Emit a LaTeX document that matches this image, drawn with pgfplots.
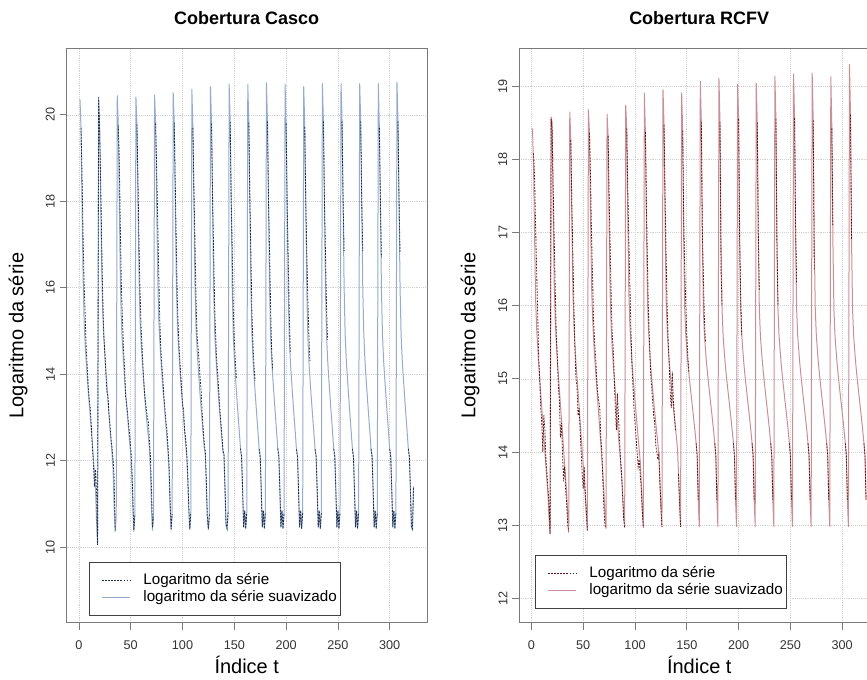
\documentclass[border=0pt]{standalone}
\usepackage{fontspec}
\setmainfont{Liberation Sans}
\usepackage{pgfplots}
\usepackage{pgfplotstable}
\pgfplotsset{compat=1.18}
\definecolor{casco}{HTML}{94ABC9}
\definecolor{cascoraw}{HTML}{1E2C48}
\definecolor{rcfv}{HTML}{C98F96}
\definecolor{rcfvraw}{HTML}{5E1414}
\definecolor{frame}{HTML}{7A7A7A}

\pgfplotstableread{
t s r
1 20.36 nan
2 19.70 19.70
3 17.90 18.60
4 16.30 17.20
5 15.20 16.10
6 14.70 15.40
7 14.30 14.60
8 13.95 14.20
9 13.60 13.70
10 13.30 13.40
11 13.00 13.20
12 12.70 12.80
13 12.40 12.30
14 12.05 11.90
15 11.70 11.40
16 11.35 11.80
17 10.60 11.30
18 10.05 10.05
19 20.42 20.40
20 19.75 19.60
21 18.10 18.40
22 16.40 17.00
23 15.40 15.80
24 14.90 14.90
25 14.45 14.50
26 14.10 14.00
27 13.75 13.60
28 13.40 13.50
29 13.05 13.10
30 12.75 12.80
31 12.45 12.50
32 12.15 12.30
33 11.80 12.00
34 10.90 11.60
35 10.35 10.40
36 10.70 nan
37 20.45 nan
38 19.75 19.75
39 17.95 18.90
40 16.20 17.40
41 15.20 16.00
42 14.70 15.30
43 14.30 14.60
44 13.95 14.20
45 13.60 13.50
46 13.30 13.30
47 13.00 13.10
48 12.70 12.80
49 12.40 12.60
50 12.15 12.30
51 11.70 11.90
52 10.90 11.20
53 10.35 10.40
54 10.75 10.75
55 20.42 nan
56 19.78 19.78
57 18.00 18.50
58 16.30 17.00
59 15.25 15.90
60 14.75 15.10
61 14.35 14.60
62 14.00 14.10
63 13.65 13.70
64 13.35 13.40
65 13.05 13.20
66 12.80 13.00
67 12.55 12.90
68 12.30 12.50
69 11.80 12.10
70 10.95 11.40
71 10.38 10.45
72 10.75 10.70
73 20.47 nan
74 19.80 19.80
75 18.05 18.80
76 16.35 17.60
77 15.30 16.40
78 14.80 15.30
79 14.40 14.60
80 14.05 14.20
81 13.70 13.90
82 13.40 13.50
83 13.10 13.20
84 12.80 12.90
85 12.50 12.70
86 12.20 12.30
87 11.75 11.90
88 10.90 11.10
89 10.38 10.42
90 10.78 10.76
91 20.52 nan
92 19.82 19.82
93 18.00 18.40
94 16.20 17.00
95 15.20 15.70
96 14.70 15.00
97 14.30 14.50
98 13.95 14.10
99 13.60 13.70
100 13.30 13.30
101 13.00 13.20
102 12.70 12.70
103 12.40 12.50
104 12.15 12.20
105 11.60 11.70
106 10.90 10.95
107 10.40 10.42
108 10.80 10.78
109 20.60 nan
110 19.70 19.70
111 17.95 18.30
112 16.10 17.10
113 15.10 15.80
114 14.60 14.90
115 14.20 14.60
116 13.85 14.30
117 13.50 13.90
118 13.20 13.60
119 12.90 13.10
120 12.60 12.70
121 12.30 12.40
122 12.15 12.20
123 11.40 11.50
124 10.60 10.70
125 10.40 10.42
126 10.80 10.78
127 20.66 nan
128 19.80 19.80
129 18.00 18.10
130 16.05 16.90
131 15.00 15.60
132 14.50 14.90
133 14.10 14.30
134 13.75 14.00
135 13.40 13.60
136 13.10 13.20
137 12.80 12.90
138 12.50 12.60
139 12.20 12.25
140 12.15 12.15
141 11.35 11.35
142 10.50 10.52
143 10.42 10.43
144 10.80 10.80
145 20.72 nan
146 19.84 19.84
147 18.00 18.00
148 16.00 16.90
149 14.92 15.50
150 14.37 14.80
151 13.97 14.30
152 13.62 13.90
153 13.27 nan
154 12.94 nan
155 12.61 nan
156 12.26 12.28
157 12.10 12.09
158 11.30 11.31
159 10.45 10.46
160 10.85 10.84
161 10.42 10.43
162 10.80 10.79
163 20.71 nan
164 19.82 19.82
165 18.00 18.05
166 16.00 16.80
167 14.92 15.40
168 14.37 14.70
169 13.97 14.20
170 13.62 13.85
171 13.27 nan
172 12.94 nan
173 12.61 nan
174 12.26 12.27
175 12.10 12.08
176 11.30 11.32
177 10.45 10.46
178 10.85 10.84
179 10.42 10.43
180 10.80 10.79
181 20.75 nan
182 19.85 19.85
183 18.00 18.00
184 16.00 16.90
185 14.92 15.60
186 14.37 14.60
187 13.97 14.10
188 13.62 nan
189 13.27 nan
190 12.94 nan
191 12.61 nan
192 12.26 12.28
193 12.10 12.09
194 11.30 11.31
195 10.45 10.46
196 10.85 10.84
197 10.42 10.43
198 10.80 10.79
199 20.71 nan
200 19.80 19.80
201 17.95 17.95
202 15.95 16.70
203 14.90 15.50
204 14.35 14.50
205 13.95 nan
206 13.60 nan
207 13.25 nan
208 12.92 nan
209 12.60 nan
210 12.25 12.26
211 12.10 12.09
212 11.30 11.31
213 10.45 10.46
214 10.85 10.84
215 10.42 10.43
216 10.80 10.79
217 20.66 nan
218 19.72 19.72
219 17.90 17.90
220 15.90 16.80
221 14.85 15.70
222 14.30 14.90
223 13.90 14.30
224 13.55 nan
225 13.22 nan
226 12.90 nan
227 12.58 nan
228 12.24 12.26
229 12.10 12.09
230 11.30 11.31
231 10.45 10.46
232 10.85 10.84
233 10.42 10.43
234 10.80 10.79
235 20.73 nan
236 19.85 19.85
237 18.00 18.00
238 16.00 16.80
239 14.92 15.60
240 14.37 14.80
241 13.97 nan
242 13.62 nan
243 13.27 nan
244 12.94 nan
245 12.61 nan
246 12.26 12.27
247 12.10 12.08
248 11.30 11.32
249 10.45 10.46
250 10.85 10.84
251 10.42 10.43
252 10.80 10.79
253 20.73 nan
254 19.85 19.85
255 18.00 18.00
256 16.00 16.85
257 14.92 nan
258 14.37 nan
259 13.97 nan
260 13.62 nan
261 13.27 nan
262 12.94 nan
263 12.61 nan
264 12.26 12.27
265 12.10 12.08
266 11.30 11.32
267 10.45 10.46
268 10.85 10.84
269 10.42 10.43
270 10.80 10.79
271 20.73 nan
272 19.85 19.85
273 18.00 18.00
274 16.00 16.85
275 14.92 nan
276 14.37 nan
277 13.97 nan
278 13.62 nan
279 13.27 nan
280 12.94 nan
281 12.61 nan
282 12.26 12.27
283 12.10 12.08
284 11.30 11.32
285 10.45 10.46
286 10.85 10.84
287 10.42 10.43
288 10.80 10.79
289 20.73 nan
290 19.70 19.70
291 18.00 18.00
292 16.00 16.70
293 14.92 nan
294 14.37 nan
295 13.97 nan
296 13.62 nan
297 13.27 nan
298 12.94 nan
299 12.61 nan
300 12.26 12.27
301 12.10 12.08
302 11.30 11.32
303 10.45 10.46
304 10.85 10.84
305 10.42 10.43
306 10.80 10.79
307 20.76 nan
308 19.85 19.85
309 18.00 18.00
310 16.00 16.80
311 14.92 nan
312 14.37 nan
313 13.97 nan
314 13.62 nan
315 13.27 nan
316 12.94 nan
317 12.61 nan
318 12.26 12.27
319 12.10 12.08
320 11.30 11.32
321 10.45 10.46
322 10.40 10.42
323 11.40 11.40
}\cascotab

\pgfplotstableread{
t s r
1 18.42 nan
2 17.95 18.08
3 17.00 17.80
4 16.10 17.10
5 15.70 16.50
6 15.45 15.90
7 15.20 15.30
8 15.00 15.00
9 14.80 14.60
10 14.60 14.40
11 14.40 14.00
12 14.20 14.50
13 14.00 14.30
14 13.80 13.90
15 13.60 13.70
16 13.40 13.50
17 13.10 13.30
18 12.88 12.88
19 18.58 18.55
20 18.50 18.40
21 17.30 17.60
22 16.30 16.90
23 15.80 16.20
24 15.50 15.60
25 15.25 15.30
26 15.05 14.90
27 14.85 14.70
28 14.65 14.20
29 14.45 14.40
30 14.25 14.00
31 14.05 13.60
32 13.85 13.80
33 13.65 13.50
34 13.45 13.30
35 13.15 13.00
36 12.90 12.92
37 18.65 nan
38 18.26 18.26
39 17.20 17.40
40 16.20 16.70
41 15.75 16.00
42 15.45 15.40
43 15.22 15.00
44 15.02 14.90
45 14.82 14.50
46 14.62 14.60
47 14.42 14.30
48 14.22 14.00
49 14.02 13.70
50 13.82 13.50
51 13.62 13.80
52 13.40 13.40
53 13.12 13.20
54 12.93 12.93
55 18.68 nan
56 18.36 18.36
57 17.30 17.80
58 16.30 17.00
59 15.85 16.40
60 15.55 15.80
61 15.30 15.50
62 15.10 15.30
63 14.90 15.00
64 14.70 14.80
65 14.50 14.70
66 14.30 14.60
67 14.10 14.20
68 13.90 14.00
69 13.70 13.60
70 13.45 13.20
71 13.15 13.00
72 12.96 12.96
73 18.62 nan
74 18.32 18.32
75 17.10 17.50
76 16.15 16.80
77 15.70 16.10
78 15.42 15.60
79 15.20 15.40
80 15.00 15.00
81 14.80 14.60
82 14.60 14.30
83 14.40 14.80
84 14.22 14.50
85 14.05 14.20
86 13.88 13.90
87 13.70 13.70
88 13.45 13.40
89 13.15 13.10
90 12.97 12.97
91 18.74 nan
92 18.42 18.42
93 17.20 17.60
94 16.20 16.90
95 15.75 16.30
96 15.48 15.70
97 15.25 15.20
98 15.05 14.90
99 14.87 14.60
100 14.70 14.40
101 14.53 14.20
102 14.36 14.00
103 14.20 13.80
104 14.04 13.90
105 13.88 13.70
106 13.60 13.50
107 13.20 13.20
108 12.97 12.97
109 18.91 nan
110 18.37 18.37
111 17.10 17.40
112 16.10 16.60
113 15.68 15.90
114 15.42 15.50
115 15.20 15.10
116 15.02 14.90
117 14.86 14.70
118 14.70 14.50
119 14.55 14.40
120 14.40 14.10
121 14.26 14.00
122 14.12 13.90
123 13.97 13.97
124 13.60 13.60
125 13.25 13.25
126 12.98 12.98
127 18.95 nan
128 18.47 18.47
129 17.20 17.50
130 16.10 16.70
131 15.70 16.00
132 15.45 15.50
133 15.25 15.20
134 15.08 14.80
135 14.92 14.60
136 14.77 15.10
137 14.62 14.70
138 14.48 14.50
139 14.34 14.30
140 14.20 nan
141 14.04 nan
142 13.70 13.70
143 13.30 13.30
144 12.98 12.98
145 18.91 nan
146 18.39 18.39
147 16.90 17.20
148 15.95 16.50
149 15.60 16.00
150 15.40 15.60
151 15.22 15.30
152 15.07 15.10
153 14.93 nan
154 14.80 nan
155 14.67 nan
156 14.54 nan
157 14.41 nan
158 14.27 nan
159 14.12 14.12
160 13.95 13.95
161 13.35 13.35
162 12.98 nan
163 19.07 nan
164 18.51 18.51
165 16.90 17.00
166 15.95 16.40
167 15.60 15.80
168 15.40 15.50
169 15.22 nan
170 15.07 nan
171 14.93 nan
172 14.80 nan
173 14.67 nan
174 14.54 nan
175 14.41 nan
176 14.27 nan
177 14.12 14.12
178 13.95 13.95
179 13.35 13.35
180 12.98 nan
181 19.11 nan
182 18.51 18.51
183 16.90 16.48
184 15.95 16.00
185 15.60 nan
186 15.40 nan
187 15.22 nan
188 15.07 nan
189 14.93 nan
190 14.80 nan
191 14.67 nan
192 14.54 nan
193 14.41 nan
194 14.27 nan
195 14.12 14.12
196 13.95 13.95
197 13.35 13.35
198 12.98 nan
199 19.03 nan
200 18.55 18.55
201 16.90 16.90
202 15.95 16.10
203 15.60 15.60
204 15.40 nan
205 15.22 nan
206 15.07 nan
207 14.93 nan
208 14.80 nan
209 14.67 nan
210 14.54 nan
211 14.41 nan
212 14.27 nan
213 14.12 14.12
214 13.95 13.95
215 13.35 13.35
216 12.98 nan
217 19.04 nan
218 18.50 18.50
219 16.90 17.00
220 15.95 16.20
221 15.60 nan
222 15.40 nan
223 15.22 nan
224 15.07 nan
225 14.93 nan
226 14.80 nan
227 14.67 nan
228 14.54 nan
229 14.41 nan
230 14.27 nan
231 14.12 14.12
232 13.95 13.95
233 13.35 13.35
234 12.98 nan
235 19.14 nan
236 18.55 18.55
237 16.90 16.80
238 15.95 16.00
239 15.60 nan
240 15.40 nan
241 15.22 nan
242 15.07 nan
243 14.93 nan
244 14.80 nan
245 14.67 nan
246 14.54 nan
247 14.41 nan
248 14.27 nan
249 14.12 14.12
250 13.95 13.95
251 13.35 13.35
252 12.98 nan
253 19.17 nan
254 18.56 18.56
255 16.90 17.10
256 15.95 16.30
257 15.60 nan
258 15.40 nan
259 15.22 nan
260 15.07 nan
261 14.93 nan
262 14.80 nan
263 14.67 nan
264 14.54 nan
265 14.41 nan
266 14.27 nan
267 14.12 14.12
268 13.95 13.95
269 13.35 13.35
270 12.98 nan
271 19.18 nan
272 18.53 18.53
273 16.90 16.48
274 15.95 nan
275 15.60 nan
276 15.40 nan
277 15.22 nan
278 15.07 nan
279 14.93 nan
280 14.80 nan
281 14.67 nan
282 14.54 nan
283 14.41 nan
284 14.27 nan
285 14.12 14.12
286 13.95 13.95
287 13.35 13.35
288 12.98 nan
289 19.13 nan
290 18.42 18.42
291 16.90 17.10
292 15.95 nan
293 15.60 nan
294 15.40 nan
295 15.22 nan
296 15.07 nan
297 14.93 nan
298 14.80 nan
299 14.67 nan
300 14.54 nan
301 14.41 nan
302 14.27 nan
303 14.12 14.12
304 13.95 13.95
305 13.35 13.35
306 12.98 nan
307 19.30 nan
308 18.61 18.61
309 16.90 16.90
310 15.95 nan
311 15.60 nan
312 15.40 nan
313 15.22 nan
314 15.07 nan
315 14.93 nan
316 14.80 nan
317 14.67 nan
318 14.54 nan
319 14.41 nan
320 14.27 nan
321 14.12 14.12
322 13.95 13.95
323 13.35 13.35
}\rcfvtab

\pgfplotsset{
  myaxis/.style={
    scale only axis, width=270.375pt, height=430.8pt,
    xmin=-12, xmax=336,
    xtick={0,50,...,300},
    axis line style={frame, line width=0.6pt},
    tick style={frame, line width=0.6pt},
    tick align=outside, major tick length=5.25pt,
    xtick pos=bottom, ytick pos=left,
    grid=major, major grid style={densely dotted, black!18, line width=0.5pt},
    /pgf/number format/assume math mode=true,
    tick label style={font=\fontsize{9.5}{11}\selectfont, text=black!80},
    xticklabel style={yshift=-5pt},
    yticklabel style={rotate=90, anchor=south},
    unbounded coords=jump,
    every axis title/.style={at={(axis description cs:0.5,1.0527)}, anchor=center, font=\bfseries\fontsize{13.5}{16}\selectfont},
    every axis x label/.style={at={(axis description cs:0.5,-0.0737)}, anchor=center, font=\fontsize{15}{18}\selectfont},
    legend cell align=left,
    legend style={anchor=south west, draw=black!75, line width=0.6pt, font=\fontsize{11.4}{13}\selectfont, inner xsep=1pt, inner ysep=7.5pt, row sep=0.5pt, fill=white, nodes={inner ysep=1.2pt}},
    reverse legend,
  }
}

\begin{document}
\begin{tikzpicture}
\path[use as bounding box] (0,0) rectangle (650.25pt,509.25pt);
\clip (0,0) rectangle (650.25pt,509.25pt);
\begin{axis}[myaxis, at={(49.875pt,42.225pt)}, anchor=south west,
  ymin=8.25, ymax=21.54, ytick={10,12,...,20},
  title={Cobertura Casco}, xlabel={Índice t}, ylabel={Logaritmo da série},
  every axis y label/.style={at={(axis description cs:-0.1345,0.5)}, rotate=90, anchor=center, font=\fontsize{15}{18}\selectfont},
  legend style={at={(0.0624,0.0117)}},
  legend image code/.code={\path[draw=none,fill=none] (-8.5pt,0pt) (29pt,0pt); \draw[#1] (0pt,0pt) -- (21pt,0pt);}]
\addplot[casco, line width=0.75pt] table[x=t,y=s]{\cascotab};
\addlegendentry{logaritmo da série suavizado}
\addplot[cascoraw, line width=0.6pt, dash pattern=on 1.3pt off 1pt] table[x=t,y=r]{\cascotab};
\addlegendentry{Logaritmo da série}
\end{axis}
\begin{axis}[myaxis, at={(389.25pt,42.225pt)}, anchor=south west,
  ymin=11.67, ymax=19.515, ytick={12,13,...,19},
  title={Cobertura RCFV}, xlabel={Índice t}, ylabel={Logaritmo da série},
  every axis y label/.style={at={(axis description cs:-0.1359,0.5)}, rotate=90, anchor=center, font=\fontsize{15}{18}\selectfont},
  legend style={at={(0.0444,0.0239)}},
  legend image code/.code={\path[draw=none,fill=none] (-8.5pt,0pt) (29pt,0pt); \draw[#1] (0pt,0pt) -- (21pt,0pt);}]
\addplot[rcfv, line width=0.75pt] table[x=t,y=s]{\rcfvtab};
\addlegendentry{logaritmo da série suavizado}
\addplot[rcfvraw, line width=0.6pt, dash pattern=on 1.3pt off 1pt] table[x=t,y=r]{\rcfvtab};
\addlegendentry{Logaritmo da série}
\end{axis}
\end{tikzpicture}
\end{document}
